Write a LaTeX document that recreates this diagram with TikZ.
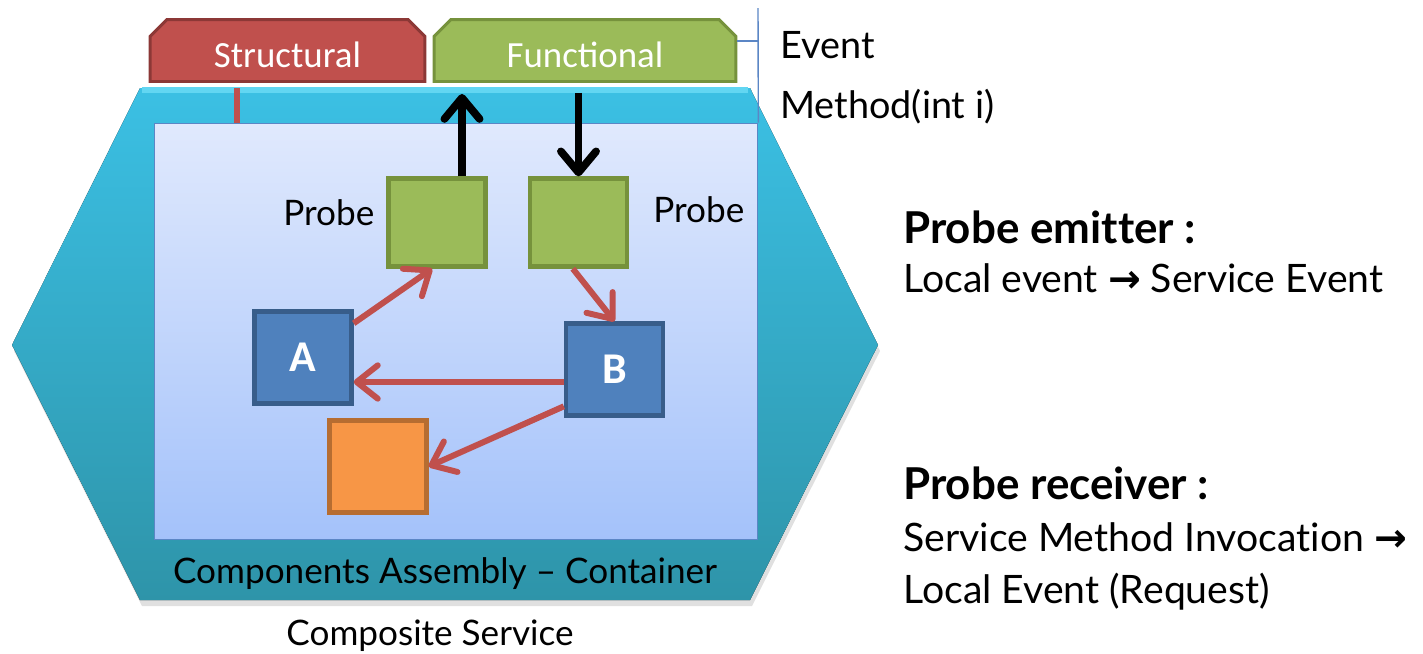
\documentclass[tikz,border=0pt]{standalone}
\usepackage{fontspec}
\setmainfont[Ligatures={NoCommon,NoContextual}]{Lato}
\newfontfamily\calibri{Carlito}
\newfontfamily\arrowfont{DejaVu Sans}
\usetikzlibrary{arrows.meta,shapes.misc}

\definecolor{hexTop}{HTML}{3BC0E4}
\definecolor{hexBot}{HTML}{2E94A9}
\definecolor{hexHi}{HTML}{62D6F2}
\definecolor{boxTop}{HTML}{E0E9FD}
\definecolor{boxBot}{HTML}{A4C2FA}
\definecolor{boxLine}{HTML}{5B86C5}
\definecolor{redFill}{HTML}{C0504D}
\definecolor{redLine}{HTML}{8C3836}
\definecolor{grnFill}{HTML}{9BBB59}
\definecolor{grnLine}{HTML}{76923C}
\definecolor{bluFill}{HTML}{4F81BD}
\definecolor{bluLine}{HTML}{385D8A}
\definecolor{orgFill}{HTML}{F79646}
\definecolor{orgLine}{HTML}{B66D31}

\begin{document}
\begin{tikzpicture}[
  x=0.02cm, y=-0.02cm,
  txt/.style={inner sep=0pt, anchor=base west, font=\fontsize{20}{24}\selectfont},
  ctxt/.style={txt, anchor=base},
  note/.style={txt, font=\fontsize{22.3}{27}\selectfont},
  noteb/.style={txt, font=\bfseries\fontsize{25}{30}\selectfont},
  tab/.style={chamfered rectangle, chamfered rectangle corners={north west,north east},
              chamfered rectangle xsep=0.22cm, line width=1.7pt, minimum height=1.24cm,
              text height=19pt, text depth=0pt,
              text=white, font=\calibri\fontsize{21}{24}\selectfont},
  probebox/.style={draw=grnLine, fill=grnFill, line width=2.5pt,
                   minimum width=1.94cm, minimum height=1.76cm},
  comp/.style={draw=bluLine, fill=bluFill, line width=2.5pt,
               minimum width=1.94cm, minimum height=1.84cm,
               text=white, font=\calibri\bfseries\fontsize{25}{28}\selectfont},
  flow/.style={draw=redFill, line width=3.4pt, -{Straight Barb[length=12pt, width=19pt, round]}},
  call/.style={draw=black, line width=4.4pt, -{Straight Barb[length=12pt, width=20pt, round]}}
]
\useasboundingbox (0,0) rectangle (1423,653);

% ---- Composite service shell ----
\fill[black, opacity=0.12] (142,94) -- (752,94) -- (880,351) -- (752,606) -- (142,606) -- (14,351) -- cycle;
\fill[top color=hexTop, bottom color=hexBot]
  (140,88) -- (750,88) -- (878,345) -- (750,600) -- (140,600) -- (12,345) -- cycle;
\draw[hexHi, line width=3pt] (142,90) -- (748,90);

% ---- Container ----
\node[draw=boxLine, line width=1pt, top color=boxTop, bottom color=boxBot,
      minimum width=12.06cm, minimum height=8.32cm] (cont) at (456,331.5) {};

% ---- Tabs ----
\node[tab, fill=redFill, draw=redLine, minimum width=5.5cm] (struct) at (287.5,50.5) {Structural};
\node[tab, fill=grnFill, draw=grnLine, minimum width=6.04cm] (func) at (585,50.5) {Functional};

\coordinate (stick) at (237,88);
\draw[redFill, line width=3.4pt] (stick) -- (stick |- cont.north);

% ---- Event bracket ----
\coordinate (brk) at (758,41);
\draw[boxLine, line width=0.8pt] (brk -| func.east) -- (brk);
\draw[boxLine, line width=0.8pt] (758,8) -- (cont.north east);
\node[txt, font=\fontsize{21.5}{24}\selectfont] (event) at (780,58) {Event};
\node[txt, font=\fontsize{21.5}{24}\selectfont] (method) at (780,118) {Method(int i)};

% ---- Probes and components ----
\node[probebox] (pemit) at (437,222.5) {};
\node[probebox] (precv) at (578.5,222.5) {};
\node[txt] (lemit) at (283,225) {Probe};
\node[txt] (lrecv) at (653,222) {Probe};

\node[comp] (ca) at (303,357.5) {A};
\node[comp] (cb) at (614.5,369.5) {B};
\node[comp, draw=orgLine, fill=orgFill] (cc) at (378,466.5) {};

% ---- Calls ----
\coordinate (up) at ([xshift=0.5cm]pemit.north);
\draw[call, shorten >=0.22cm] (up) -- (up |- func.south);
\draw[call, shorten <=0.2cm] (precv.north |- func.south) -- (precv.north);

\draw[flow] (ca.34) -- (pemit.264);
\draw[flow] (precv.263) -- (cb.north);
\coordinate (ba) at ([yshift=-0.25cm]cb.west);
\draw[flow] (ba) -- (ba -| ca.east);
\draw[flow] (cb.216) -- (cc.east);

% ---- Captions ----
\node[ctxt] (asm) at (445,583) {Components Assembly – Container};
\node[ctxt] (csvc) at (430,645) {Composite Service};

\node[noteb] (emit) at (903,243) {Probe emitter :};
\node[note] (emitd) at (903,292) {Local event {\arrowfont\bfseries →} Service Event};
\node[noteb] (recv) at (903,499) {Probe receiver :};
\node[note] (recvd1) at (903,551) {Service Method Invocation {\arrowfont\bfseries →}};
\node[note] (recvd2) at (903,603) {Local Event (Request)};

\end{tikzpicture}
\end{document}
